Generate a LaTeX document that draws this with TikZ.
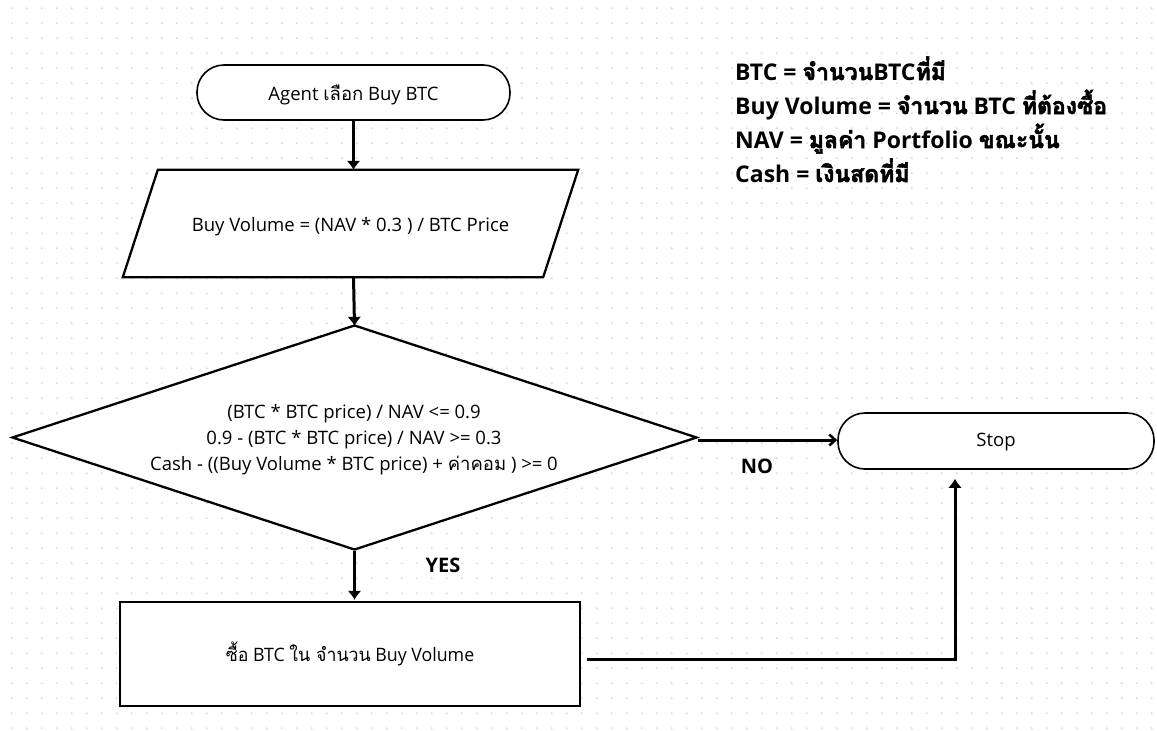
\documentclass[tikz,border=0pt]{standalone}
\usepackage{fontspec}
\setmainfont{Open Sans}
\newfontfamily\thaifont[Script=Thai]{Loma}
\newfontfamily\thaibold[Script=Thai,FakeBold=2.4]{Loma}
\newfontfamily\narrowlatin[FakeStretch=0.96]{Open Sans}
\newfontfamily\narrowthai[Script=Thai,FakeStretch=0.96]{Loma}
\newcommand\thx[1]{{\thaifont #1}}
\newcommand\thb[1]{{\thaibold #1}}
\newcommand\nthx[1]{{\narrowthai #1}}
\usetikzlibrary{shapes.geometric,arrows.meta,calc}
\definecolor{dotc}{RGB}{216,220,228}
\tikzset{
  terminal/.style={draw=black, line width=1.6pt, rounded corners=27pt, fill=white,
    inner sep=0pt, font=\fontsize{18.5}{22}\selectfont},
  iobox/.style={inner sep=0pt, font=\fontsize{18.5}{22}\selectfont},
  decision/.style={diamond, draw=black, line width=2.3pt, fill=white, inner sep=0pt,
    minimum width=685pt, minimum height=225pt},
  process/.style={draw=black, line width=2.4pt, fill=white, inner sep=0pt,
    font=\narrowlatin\fontsize{18.5}{22}\selectfont},
  conn/.style={line width=3pt, -{Latex[length=9pt,width=14pt]}},
  openconn/.style={line width=3pt, -{Straight Barb[length=6pt,width=11pt,line width=2.6pt]}},
  legend/.style={anchor=base west, inner sep=0pt, font=\bfseries\fontsize{23}{27}\selectfont},
  branch/.style={font=\bfseries\fontsize{20}{24}\selectfont, inner sep=0pt},
}
\begin{document}
\begin{tikzpicture}[x=1pt,y=-1pt]
  % page and dotted grid
  \fill[white] (0,0) rectangle (1157,731);
  \useasboundingbox (0,0) rectangle (1157,731);
  \foreach \i in {0,...,76} {
    \foreach \j in {0,...,48} {
      \fill[dotc] (11.7+15*\i, 8.3+15*\j) circle (1.1pt);
    }
  }

  % legend
  \node[legend] (leg1) at (735,80) {BTC = \thb{จำนวน}BTC\thb{ที่มี}};
  \node[legend] (leg2) at (735,114) {Buy Volume = \thb{จำนวน} BTC \thb{ที่ต้องซื้อ}};
  \node[legend] (leg3) at (735,148) {NAV = \thb{มูลค่า} Portfolio \thb{ขณะนั้น}};
  \node[legend] (leg4) at (735,182) {Cash = \thb{เงินสดที่มี}};

  % start
  \node[terminal, minimum width=313pt, minimum height=55pt] (start) at (353.5,92.5) {};
  \node[iobox] (starttext) at ($(start.center)+(0,2)$) {Agent \thx{เลือก} Buy BTC};

  % buy volume computation (parallelogram drawn over its bounding node)
  \node[iobox, minimum width=455pt, minimum height=107pt] (vol) at (350.5,223.5) {};
  \fill[white] (vol.south west) -- ($(vol.north west)+(35,0)$) -- (vol.north east)
    -- ($(vol.south east)-(35,0)$) -- cycle;
  \draw[line width=2.3pt, line join=miter] (vol.south west) -- ($(vol.north west)+(35,0)$)
    -- (vol.north east) -- ($(vol.south east)-(35,0)$) -- cycle;
  \node[iobox] (voltext) at ($(vol.center)+(0,3)$) {Buy Volume = (NAV * 0.3 ) / BTC Price};

  % decision
  \node[decision] (dec) at (354.5,437.5) {};
  \node[align=center, inner sep=0pt, font=\fontsize{18.5}{26}\selectfont] (dectext) at (354,440)
    {(BTC * BTC price) / NAV <= 0.9\\
     0.9 - (BTC * BTC price) / NAV >= 0.3\\
     Cash - ((Buy Volume * BTC price) + \thx{ค่าคอม} ) >= 0};

  % stop
  \node[terminal, minimum width=316pt, minimum height=56pt] (stop) at (996,441) {};
  \node[iobox] (stoptext) at ($(stop.center)+(0,1)$) {Stop};

  % buy action
  \node[process, minimum width=460pt, minimum height=104pt] (buy) at (350,654)
    {\nthx{ซื้อ} BTC \nthx{ใน จำนวน} Buy Volume};

  % connectors
  \draw[conn] (start.south) -- (start.south |- vol.north);
  \draw[conn] (vol.south -| start.south) -- ($(dec.north)+(0,2)$);
  \draw[conn] (dec.south) -- ($(dec.south |- buy.north)-(0,1)$);
  \draw[openconn] ($(dec.east)+(0,2.5)$) -- ($(dec.east -| stop.west)+(0,2.5)$);
  \coordinate (rejoin) at ($(stop.south)+(-41,9)$);
  \draw[conn] ($(buy.east)+(6,5)$) -| (rejoin);

  % branch labels
  \node[branch] (nolbl) at (757,466) {NO};
  \node[branch] (yeslbl) at (443,565) {YES};
\end{tikzpicture}
\end{document}
